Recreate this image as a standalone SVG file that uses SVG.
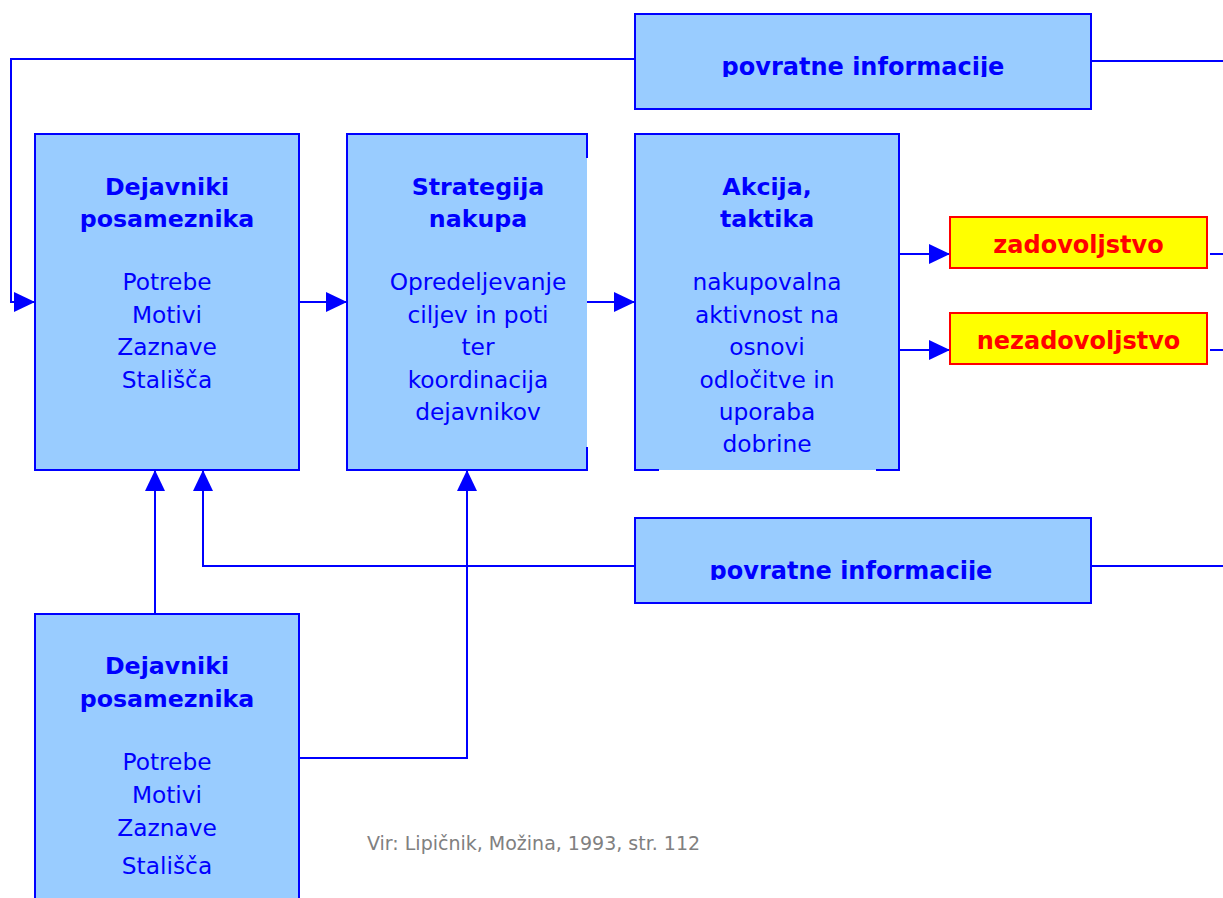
<svg xmlns="http://www.w3.org/2000/svg" width="1223" height="898" viewBox="0 0 1223 898">
<style>
.box{fill:#99CCFF;stroke:#0000FF;stroke-width:2}
.fill{fill:#99CCFF;stroke:none}
.edge{fill:none;stroke:#0000FF;stroke-width:2}
.res{fill:#FFFF00;stroke:#FF0000;stroke-width:2}
.t{font-family:"DejaVu Sans",Verdana,sans-serif;fill:#0000FF;text-anchor:middle}
.b{font-weight:bold;font-size:23.7px}
.r{font-size:23.3px}
.fb{font-weight:bold;font-size:24px}
.red{font-family:"DejaVu Sans",Verdana,sans-serif;font-weight:bold;font-size:24px;fill:#FF0000;text-anchor:middle}
.src{font-family:"DejaVu Sans",Verdana,sans-serif;font-size:19px;fill:#808080}
.c{fill:none;stroke:#0000FF;stroke-width:2}
</style>
<defs>
<marker id="ah" markerUnits="userSpaceOnUse" markerWidth="21" markerHeight="20" refX="21" refY="10" orient="auto">
<path d="M0,0 L21,10 L0,20 Z" fill="#0000FF"/>
</marker>
<clipPath id="clipTop"><rect x="635" y="14" width="456" height="63"/></clipPath>
<clipPath id="clipBot"><rect x="635" y="518" width="456" height="62"/></clipPath>
</defs>

<g id="connectors">
<path class="c" d="M635,59 H11 V302 H35" marker-end="url(#ah)"/>
<path class="c" d="M1091,61 H1223"/>
<path class="c" d="M299,302 H347" marker-end="url(#ah)"/>
<path class="c" d="M587,302 H635" marker-end="url(#ah)"/>
<path class="c" d="M899,254 H950" marker-end="url(#ah)"/>
<path class="c" d="M899,350 H950" marker-end="url(#ah)"/>
<path class="c" d="M1210,254 H1223"/>
<path class="c" d="M1210,350 H1223"/>
<path class="c" d="M635,566 H203 V470" marker-end="url(#ah)"/>
<path class="c" d="M1091,566 H1223"/>
<path class="c" d="M155,614 V470" marker-end="url(#ah)"/>
<path class="c" d="M299,758 H467 V470" marker-end="url(#ah)"/>
</g>

<g id="feedback-top">
<rect class="box" x="635" y="14" width="456" height="95"/>
<text class="t fb" x="863" y="75" clip-path="url(#clipTop)">povratne informacije</text>
</g>

<g id="dejavniki-1">
<rect class="box" x="35" y="134" width="264" height="336"/>
<text class="t b" x="167" y="195">Dejavniki</text>
<text class="t b" x="167" y="227">posameznika</text>
<text class="t r" x="167" y="290">Potrebe</text>
<text class="t r" x="167" y="322.5">Motivi</text>
<text class="t r" x="167" y="355">Zaznave</text>
<text class="t r" x="167" y="387.5">Stališča</text>
</g>

<g id="strategija">
<rect class="fill" x="347" y="134" width="240" height="336"/>
<path class="edge" d="M587,158 V134 H347 V470 H587 V447"/>
<text class="t b" x="478" y="195">Strategija</text>
<text class="t b" x="478" y="227">nakupa</text>
<text class="t r" x="478" y="290">Opredeljevanje</text>
<text class="t r" x="478" y="322.5">ciljev in poti</text>
<text class="t r" x="478" y="355">ter</text>
<text class="t r" x="478" y="387.5">koordinacija</text>
<text class="t r" x="478" y="420">dejavnikov</text>
</g>

<g id="akcija">
<rect class="fill" x="635" y="134" width="264" height="336"/>
<path class="edge" d="M659,470 H635 V134 H899 V470 H876"/>
<text class="t b" x="767" y="195">Akcija,</text>
<text class="t b" x="767" y="227">taktika</text>
<text class="t r" x="767" y="290">nakupovalna</text>
<text class="t r" x="767" y="322.5">aktivnost na</text>
<text class="t r" x="767" y="355">osnovi</text>
<text class="t r" x="767" y="387.5">odločitve in</text>
<text class="t r" x="767" y="420">uporaba</text>
<text class="t r" x="767" y="452">dobrine</text>
</g>

<g id="zadovoljstvo">
<rect class="res" x="950" y="217" width="257" height="51"/>
<text class="red" x="1078.5" y="253">zadovoljstvo</text>
</g>

<g id="nezadovoljstvo">
<rect class="res" x="950" y="313" width="257" height="51"/>
<text class="red" x="1078.5" y="349">nezadovoljstvo</text>
</g>

<g id="feedback-bottom">
<rect class="box" x="635" y="518" width="456" height="85"/>
<text class="t fb" x="851" y="579" clip-path="url(#clipBot)">povratne informacije</text>
</g>

<g id="dejavniki-2">
<rect class="box" x="35" y="614" width="264" height="300"/>
<text class="t b" x="167" y="674">Dejavniki</text>
<text class="t b" x="167" y="706.5">posameznika</text>
<text class="t r" x="167" y="770">Potrebe</text>
<text class="t r" x="167" y="802.5">Motivi</text>
<text class="t r" x="167" y="835.5">Zaznave</text>
<text class="t r" x="167" y="874">Stališča</text>
</g>

<g id="source">
<text class="src" x="367" y="850">Vir: Lipičnik, Možina, 1993, str. 112</text>
</g>
</svg>
